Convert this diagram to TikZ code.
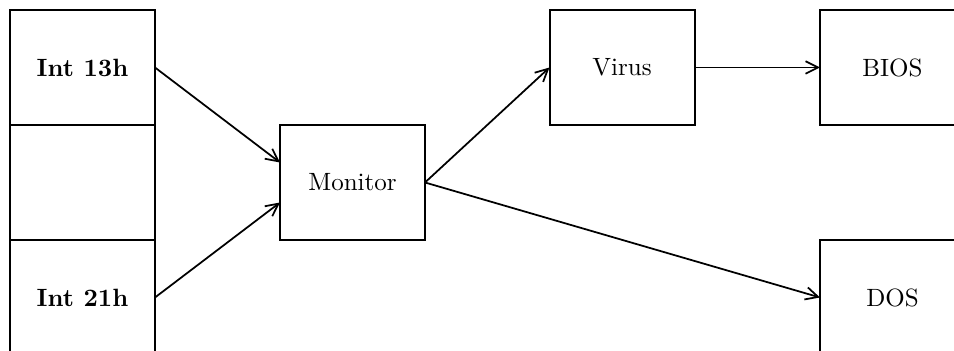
\documentclass[tikz,border=0pt]{standalone}
\usepackage{tikz}
\usetikzlibrary{arrows.meta}
\tikzset{
  blk/.style={draw,line width=0.8pt,minimum width=58pt,minimum height=46pt,inner sep=0pt,outer sep=0pt,font=\normalsize},
  intblk/.style={blk,font=\bfseries},
  arr/.style={-{Straight Barb[length=5pt,width=5pt]},line width=0.7pt},
}
\begin{document}
\begin{tikzpicture}[x=0.4pt,y=-0.4pt]
\useasboundingbox (0,0) rectangle (954,351);
\clip (0,0) rectangle (954,351);
% interrupt table
\node[intblk] (i13) at (82.5,67.5) {Int 13h};
\node[blk] (gap) at (82.5,182.5) {};
\node[intblk] (i21) at (82.5,297.5) {Int 21h};
% chain
\node[blk] (mon) at (352.5,182.5) {Monitor};
\node[blk] (vir) at (622,67.5) {Virus};
\node[blk] (bios) at (892.5,67.5) {BIOS};
\node[blk] (dos) at (892.5,297.5) {DOS};
\draw[arr] (i13.east) -- ([yshift=8pt]mon.west);
\draw[arr] (i21.east) -- ([yshift=-8pt]mon.west);
\draw[arr] (mon.east) -- (vir.west);
\draw[arr] (vir.east) -- (bios.west);
\draw[arr] (mon.east) -- (dos.west);
\end{tikzpicture}
\end{document}
